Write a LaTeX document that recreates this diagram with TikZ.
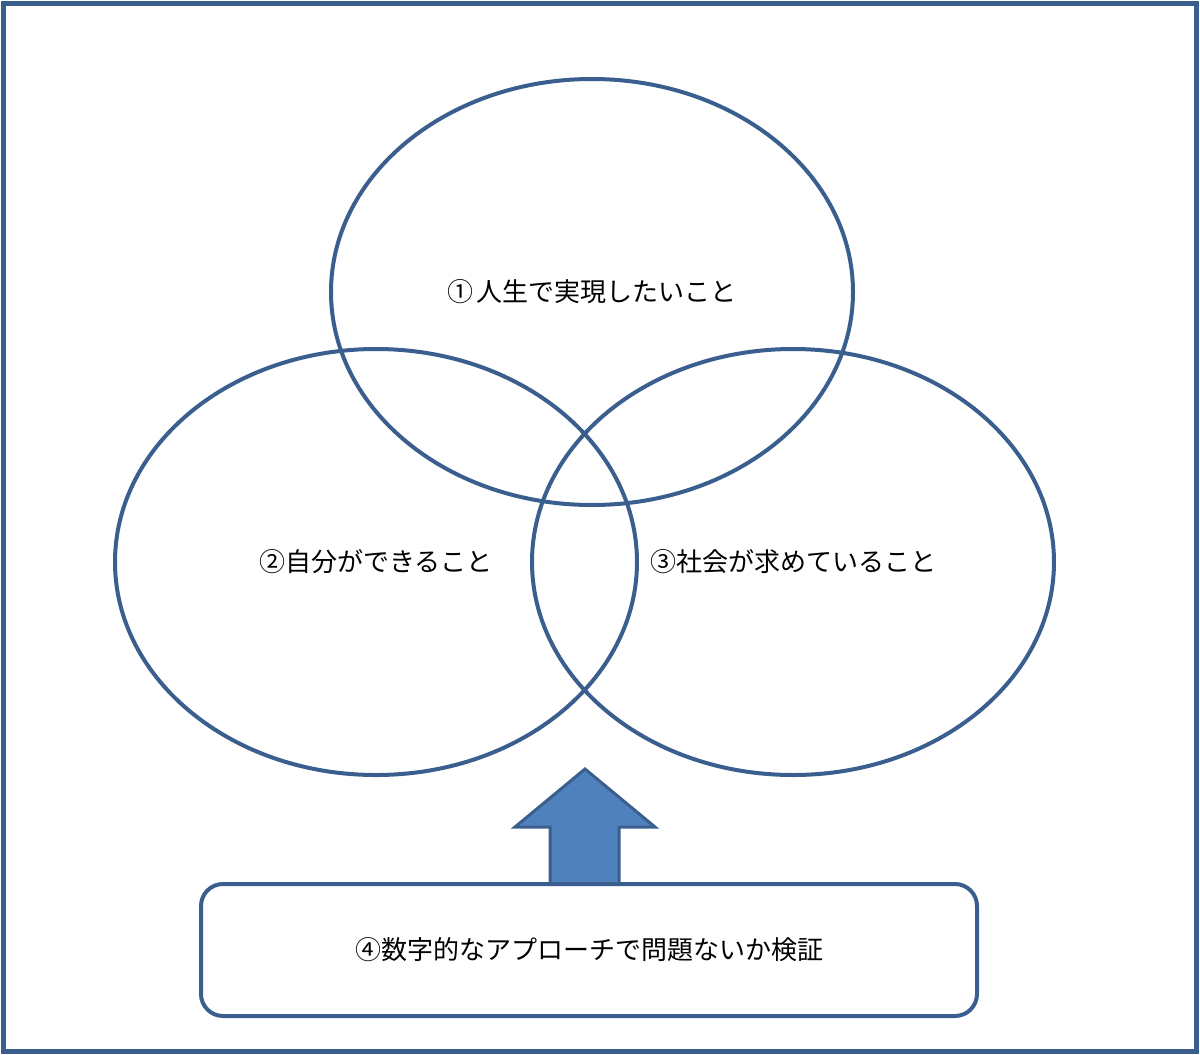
\documentclass[tikz,border=0pt]{standalone}
\usepackage{fontspec}
\newfontfamily\jp{Noto Sans CJK JP}
\usetikzlibrary{shapes.geometric}
\definecolor{dblue}{HTML}{3A5F8E}
\definecolor{fblue}{HTML}{4F81BD}
\begin{document}
\begin{tikzpicture}[x=0.5pt,y=-0.5pt,
  jptext/.style={font=\jp\fontsize{13pt}{15pt}\selectfont, text=black},
  venn/.style={ellipse, draw=dblue, line width=2pt, minimum width=261pt, minimum height=213pt, inner sep=0pt, jptext},
  verifybox/.style={rectangle, rounded corners=11pt, draw=dblue, line width=2pt, fill=white, minimum width=388pt, minimum height=66pt, inner sep=0pt, jptext},
  blockarrow/.style={draw=dblue, fill=fblue, line width=1.5pt, line join=miter}]
\useasboundingbox (0,0) rectangle (1200,1055);
\draw[dblue, line width=2.5pt] (3,3) rectangle (1196,1051);
\node[venn] (life) at (592,292) {①\hspace{2pt}人生で実現したいこと};
\node[venn] (self) at (376,562) {②自分ができること};
\node[venn] (society) at (793,562) {③社会が求めていること};
\draw[blockarrow] (550,884) -- (550,827) -- (515,827) -- (585,769) -- (655,827) -- (619,827) -- (619,884) -- cycle;
\node[verifybox] (verify) at (589,950) {④数字的なアプローチで問題ないか検証};
\end{tikzpicture}
\end{document}
